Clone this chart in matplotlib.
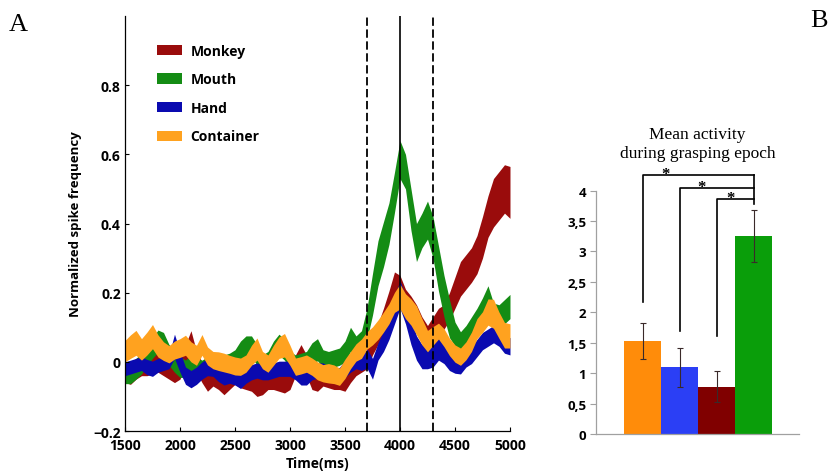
import matplotlib
matplotlib.use('Agg')
import matplotlib.pyplot as plt
import numpy as np
from matplotlib.patches import Patch

# time axis (ms), one sample every 50 ms
times = np.arange(1500, 5001, 50)

monkey_mean = [-0.030, -0.035, -0.020, -0.010, -0.010, -0.005, 0.000, -0.010, -0.020, -0.030, -0.020,
               0.020, 0.060, 0.000, -0.030, -0.055, -0.040, -0.050, -0.065, -0.050, -0.035,
               -0.045, -0.050, -0.055, -0.070, -0.065, -0.050, -0.050, -0.055, -0.060, -0.050,
               -0.010, 0.020, -0.010, -0.050, -0.055, -0.040, -0.045, -0.050, -0.050, -0.055,
               -0.030, -0.010, 0.000, 0.010, 0.050, 0.080, 0.120, 0.170, 0.220, 0.210,
               0.170, 0.150, 0.130, 0.100, 0.075, 0.100, 0.120, 0.130, 0.160, 0.200,
               0.240, 0.260, 0.280, 0.310, 0.360, 0.420, 0.460, 0.480, 0.500, 0.490]
monkey_sem = [0.030] * 47 + [0.035, 0.035, 0.040, 0.040,
              0.040, 0.040, 0.035, 0.030, 0.030, 0.030, 0.035, 0.035, 0.040, 0.045,
              0.050, 0.050, 0.050, 0.055, 0.060, 0.060, 0.070, 0.070, 0.070, 0.075]

mouth_mean = [-0.035, -0.035, -0.020, -0.005, 0.020, 0.040, 0.060, 0.055, 0.020, 0.000, -0.015,
              -0.020, -0.010, -0.020, -0.020, -0.010, -0.005, 0.000, -0.005, 0.000, 0.010,
              0.030, 0.045, 0.045, 0.020, -0.005, 0.005, 0.030, 0.050, 0.035, 0.005,
              -0.005, 0.000, 0.005, 0.025, 0.035, 0.010, 0.005, 0.010, 0.015, 0.030,
              0.065, 0.045, 0.060, 0.110, 0.195, 0.285, 0.340, 0.400, 0.490, 0.585,
              0.550, 0.440, 0.345, 0.380, 0.410, 0.360, 0.270, 0.190, 0.125, 0.080,
              0.062, 0.075, 0.100, 0.125, 0.150, 0.180, 0.135, 0.130, 0.145, 0.160]
mouth_sem = [0.028, 0.028, 0.030, 0.030, 0.030, 0.030, 0.032, 0.030, 0.030, 0.030, 0.030,
             0.025, 0.030, 0.030, 0.025, 0.025, 0.025, 0.025, 0.025, 0.025, 0.025,
             0.030, 0.030, 0.030, 0.030, 0.025, 0.025, 0.030, 0.030, 0.030, 0.025,
             0.025, 0.025, 0.025, 0.030, 0.032, 0.025, 0.025, 0.025, 0.025, 0.030,
             0.035, 0.030, 0.030, 0.045, 0.060, 0.065, 0.065, 0.060, 0.058, 0.055,
             0.050, 0.060, 0.055, 0.050, 0.055, 0.060, 0.065, 0.060, 0.055, 0.035,
             0.025, 0.030, 0.030, 0.030, 0.035, 0.040, 0.035, 0.035, 0.035, 0.035]

hand_mean = [-0.020, -0.015, -0.010, -0.005, -0.015, -0.020, -0.010, -0.005, 0.000, 0.045, 0.000,
             -0.040, -0.050, -0.040, -0.025, -0.015, -0.020, -0.035, -0.045, -0.040, -0.045,
             -0.055, -0.040, -0.030, -0.025, -0.030, -0.030, -0.025, -0.020, -0.020, -0.020,
             -0.030, -0.045, -0.045, -0.030, -0.025, -0.025, -0.035, -0.040, -0.040, -0.020,
             -0.005, 0.005, 0.000, 0.010, -0.020, 0.030, 0.060, 0.100, 0.150, 0.195,
             0.150, 0.090, 0.040, 0.015, 0.015, 0.020, 0.040, 0.030, 0.005, -0.005,
             -0.010, 0.010, 0.020, 0.040, 0.060, 0.070, 0.080, 0.070, 0.050, 0.045]
hand_sem = [0.020, 0.020, 0.020, 0.020, 0.022, 0.022, 0.020, 0.020, 0.020, 0.035, 0.030,
            0.025, 0.025, 0.025, 0.025, 0.025, 0.022, 0.022, 0.022, 0.022, 0.022,
            0.022, 0.022, 0.022, 0.022, 0.022, 0.022, 0.022, 0.022, 0.022, 0.022,
            0.022, 0.022, 0.022, 0.022, 0.022, 0.022, 0.022, 0.022, 0.024, 0.025,
            0.025, 0.025, 0.025, 0.028, 0.030, 0.025, 0.030, 0.035, 0.040, 0.040,
            0.040, 0.040, 0.035, 0.035, 0.035, 0.035, 0.035, 0.035, 0.030, 0.028,
            0.025, 0.025, 0.025, 0.025, 0.025, 0.025, 0.025, 0.025, 0.025, 0.025]

container_mean = [0.031, 0.044, 0.055, 0.036, 0.053, 0.073, 0.046, 0.031, 0.022, 0.034, 0.040,
                  0.048, 0.029, 0.019, 0.049, 0.017, 0.005, 0.002, -0.002, -0.007, -0.012,
                  -0.014, -0.005, 0.019, 0.037, 0.005, -0.005, 0.019, 0.041, 0.048, 0.019,
                  -0.014, -0.010, -0.005, -0.014, -0.026, -0.033, -0.033, -0.036, -0.043, -0.020,
                  0.005, 0.027, 0.038, 0.062, 0.075, 0.093, 0.115, 0.139, 0.172, 0.189,
                  0.161, 0.144, 0.120, 0.087, 0.060, 0.075, 0.089, 0.070, 0.043, 0.024,
                  0.015, 0.032, 0.058, 0.096, 0.115, 0.144, 0.139, 0.106, 0.077, 0.075]
container_sem = [0.031, 0.034, 0.036, 0.031, 0.033, 0.035, 0.032, 0.027, 0.025, 0.026, 0.027,
                 0.029, 0.029, 0.029, 0.030, 0.026, 0.025, 0.027, 0.027, 0.026, 0.026,
                 0.025, 0.025, 0.029, 0.032, 0.025, 0.025, 0.029, 0.031, 0.034, 0.029,
                 0.025, 0.025, 0.025, 0.025, 0.026, 0.025, 0.028, 0.027, 0.025, 0.028,
                 0.025, 0.025, 0.028, 0.025, 0.026, 0.028, 0.029, 0.029, 0.029, 0.036,
                 0.036, 0.038, 0.042, 0.038, 0.031, 0.027, 0.023, 0.026, 0.025, 0.025,
                 0.025, 0.026, 0.028, 0.029, 0.030, 0.038, 0.042, 0.038, 0.037, 0.035]

labels = ['Monkey', 'Mouth', 'Hand', 'Container']
band_colors = ['#9a0c0c', '#148c14', '#0a0ab0', '#ffa21f']
event_times = [3700, 4000, 4300]

# panel B
bar_values = [1.53, 1.10, 0.78, 3.25]
bar_errors = [0.29, 0.32, 0.26, 0.43]
bar_colors = ['#ff8c0a', '#2b3ff5', '#800000', '#0a9e0a']
bar_ticks = [0, 0.5, 1, 1.5, 2, 2.5, 3, 3.5, 4]
bar_ticklabels = ['0', '0,5', '1', '1,5', '2', '2,5', '3', '3,5', '4']
# significance brackets: (from bar, bottom of left leg, top height, star x)
brackets = [(0, 2.17, 4.26, 0.61), (1, 1.70, 4.05, 1.58), (2, 1.61, 3.86, 2.39)]

sans = 'Open Sans'

fig = plt.figure(figsize=(8.31, 4.77), dpi=100)
ax = fig.add_axes([0.1504, 0.0943, 0.4633, 0.870])

series = [(monkey_mean, monkey_sem), (mouth_mean, mouth_sem),
          (hand_mean, hand_sem), (container_mean, container_sem)]
for (m, s), c in zip(series, band_colors):
    m = np.array(m)
    s = np.array(s)
    ax.fill_between(times, m - s, m + s, color=c, linewidth=0)

for t in event_times:
    if t == 4000:
        ax.axvline(t, color='black', lw=1.2)
    else:
        ax.axvline(t, color='black', lw=1.3, linestyle=(0, (4.6, 2.0)))

ax.set_xlim(1500, 5000)
ax.set_ylim(-0.2, 1.0)
ax.set_xticks([1500, 2000, 2500, 3000, 3500, 4000, 4500, 5000])
ax.set_yticks([-0.2, 0, 0.2, 0.4, 0.6, 0.8])
ax.set_yticklabels(['\u22120.2', '0', '0.2', '0.4', '0.6', '0.8'])
ax.tick_params(direction='in', length=3, width=0.8, labelsize=10)
ax.tick_params(axis='x', pad=5)
ax.tick_params(axis='y', pad=3)
for lab in ax.get_xticklabels() + ax.get_yticklabels():
    lab.set_fontfamily(sans)
    lab.set_fontweight('bold')
for side in ['top', 'right']:
    ax.spines[side].set_visible(False)
ax.spines['left'].set_linewidth(0.9)
ax.spines['bottom'].set_linewidth(0.9)
ax.set_xlabel('Time(ms)', fontsize=10, fontweight='bold', family=sans, labelpad=3)
ax.set_ylabel('Normalized spike frequency', fontsize=9.5, fontweight='bold', family=sans, labelpad=8)

handles = [Patch(facecolor=c, edgecolor='none') for c in band_colors]
ax.legend(handles, labels, loc='upper left', bbox_to_anchor=(0.066, 0.95), frameon=False,
          handlelength=1.8, handleheight=0.75, handletextpad=0.6, labelspacing=1.05,
          prop={'family': sans, 'weight': 'bold', 'size': 10}, borderpad=0)

# panel B
bx = fig.add_axes([0.7172, 0.0881, 0.2443, 0.5101])
pos = np.arange(len(bar_values))
bx.bar(pos, bar_values, width=1.0, color=bar_colors, edgecolor='none')
bx.errorbar(pos, bar_values, yerr=bar_errors, fmt='none', ecolor='#3a2a2a',
            elinewidth=0.8, capsize=2.5, capthick=0.8)
for i, low, top, sx in brackets:
    bx.plot([i, i, 3], [low, top, top], color='black', lw=1.2, clip_on=False)
    bx.text(sx, top - 0.05, '*', ha='center', va='baseline', fontsize=12, fontweight='bold',
            family='Liberation Serif', clip_on=False)
bx.plot([3, 3], [4.26, 3.78], color='black', lw=1.2, clip_on=False)
bx.set_xlim(-1.26, 4.23)
bx.set_ylim(0, 4)
bx.set_xticks([])
bx.set_yticks(bar_ticks)
bx.set_yticklabels(bar_ticklabels)
bx.tick_params(axis='y', direction='out', length=4, width=0.8, color='#a0a0a0', labelsize=9.5, pad=3)
for lab in bx.get_yticklabels():
    lab.set_fontfamily(sans)
    lab.set_fontweight('bold')
for side in ['top', 'right']:
    bx.spines[side].set_visible(False)
for side in ['left', 'bottom']:
    bx.spines[side].set_color('#a0a0a0')
    bx.spines[side].set_linewidth(0.9)
bx.set_title('Mean activity\nduring grasping epoch', family='Liberation Serif', fontsize=12.5,
             linespacing=1.25, pad=24)

fig.text(0.011, 0.947, 'A', family='Liberation Serif', fontsize=19, ha='left', va='center')
fig.text(0.985, 0.957, 'B', family='Liberation Serif', fontsize=19, ha='center', va='center')

fig.savefig('out.png', dpi=100)
